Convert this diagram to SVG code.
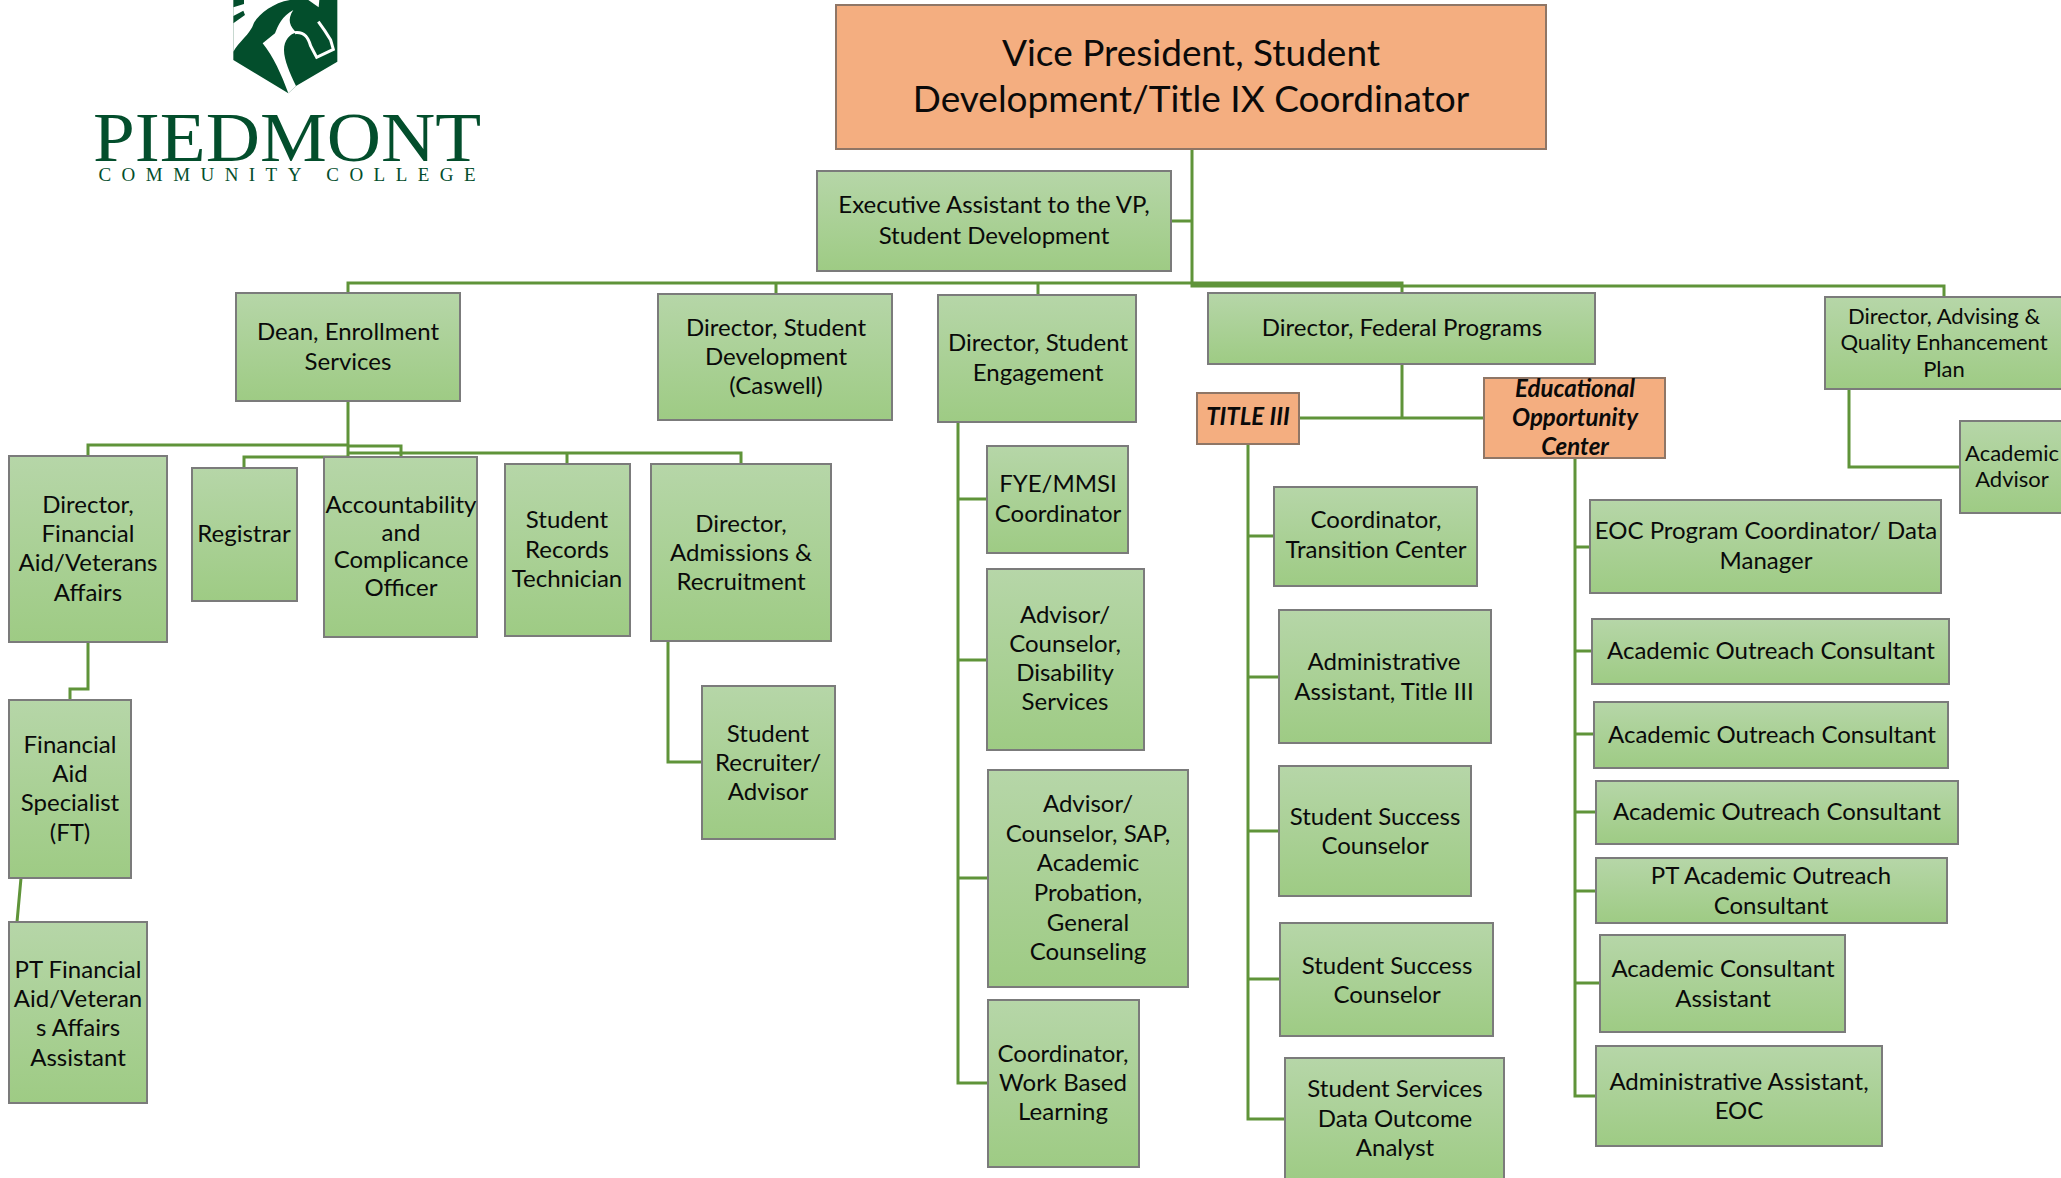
<svg xmlns="http://www.w3.org/2000/svg" width="2061" height="1178" viewBox="0 0 2061 1178">
<style>
text{font-family:"Lato","Open Sans","Liberation Sans",sans-serif;font-size:24px;fill:#0a0a0a;text-anchor:middle}
.g{fill:url(#gr);stroke:#7b7b7b;stroke-width:2}
.o{fill:#f4ae80;stroke:#8f7666;stroke-width:2}
.c{fill:none;stroke:#5f9439;stroke-width:3}
.s{font-size:22px}
.b{font-weight:700;font-style:italic}
.vp{font-size:37px}
.logo{font-family:"Liberation Serif",serif;fill:#034e2c}
</style>
<defs><linearGradient id="gr" x1="0" y1="0" x2="0" y2="1"><stop offset="0" stop-color="#b6d6a8"/><stop offset="1" stop-color="#9ecb84"/></linearGradient></defs>
<rect width="2061" height="1178" fill="#fff"/>
<g id="logo">
<g transform="translate(60 0) scale(.33333)">
<path fill="#034e2c" d="M520 0H832V185L708 258L685 280L520 180Z"/>
<path fill="#fff" d="M552 0H690C640 8 600 40 582 68C570 105 535 125 520 155V70L555 45L550 32L520 48V22L552 12Z"/>
<path fill="#fff" d="M700 30C665 50 655 75 645 100L608 130C640 170 665 225 685 280L708 258C690 220 672 180 672 150C672 120 690 100 710 98C690 80 680 60 700 30Z"/>
<path fill="none" stroke="#fff" stroke-width="9" d="M705 98C735 95 745 115 752 138L770 172L820 148L812 120C800 100 790 85 775 65"/>
<path fill="#fff" d="M745 0H778L776 22Z"/>
</g>
<text class="logo" x="287" y="161" font-size="70" style="font-size:70px;text-anchor:middle" textLength="388" lengthAdjust="spacingAndGlyphs">PIEDMONT</text>
<text class="logo" x="287" y="181" style="font-size:19px;text-anchor:middle" textLength="377">COMMUNITY COLLEGE</text>
</g>
<g id="connectors" class="c">
<path d="M1192 149V283M1171 221H1192M348 293V283H1402V293M1192 283V286H1402M1192 286H1944V297M776 283V294M1038 283V295"/>
<path d="M348 401V457M88 456V445H348M348 446H401V457M244 468V457H348M348 453H741V464M567 453V464"/>
<path d="M88 642V689H70V700M21 878L17 922M668 641V762H702"/>
<path d="M958 422V1083H988M958 499H987M958 660H987M958 878H988"/>
<path d="M1402 364V418M1299 418H1484"/>
<path d="M1248 444V1119H1285M1248 536H1274M1248 677H1279M1248 831H1279M1248 979H1280"/>
<path d="M1575 458V1096H1596M1575 547H1590M1575 651H1592M1575 734H1594M1575 812H1596M1575 891H1596M1575 983H1600"/>
<path d="M1849 389V467H1960"/>
</g>
<g id="vp"><rect class="o" x="836" y="5" width="710" height="144"/><text class="vp" x="1191" y="66">Vice President, Student</text><text class="vp" x="1191" y="112">Development/Title IX Coordinator</text></g>
<g id="exec"><rect class="g" x="817" y="171" width="354" height="100"/><text x="994" y="213">Executive Assistant to the VP,</text><text x="994" y="244">Student Development</text></g>
<g id="dean"><rect class="g" x="236" y="293" width="224" height="108"/><text x="348" y="340">Dean, Enrollment</text><text x="348" y="370">Services</text></g>
<g id="dirsd"><rect class="g" x="658" y="294" width="234" height="126"/><text x="776" y="336">Director, Student</text><text x="776" y="365">Development</text><text x="776" y="394">(Caswell)</text></g>
<g id="dirse"><rect class="g" x="938" y="295" width="198" height="127"/><text x="1038" y="351">Director, Student</text><text x="1038" y="381">Engagement</text></g>
<g id="dirfed"><rect class="g" x="1208" y="293" width="387" height="71"/><text x="1402" y="336">Director, Federal Programs</text></g>
<g id="diradv"><rect class="g" x="1825" y="297" width="245" height="92"/><text class="s" x="1944" y="324">Director, Advising &amp;</text><text class="s" x="1944" y="350">Quality Enhancement</text><text class="s" x="1944" y="377">Plan</text></g>
<g id="acadv"><rect class="g" x="1960" y="421" width="110" height="92"/><text class="s" x="2012" y="461">Academic</text><text class="s" x="2012" y="487">Advisor</text></g>
<g id="dirfin"><rect class="g" x="9" y="456" width="158" height="186"/><text x="88" y="513">Director,</text><text x="88" y="542">Financial</text><text x="88" y="571">Aid/Veterans</text><text x="88" y="601">Affairs</text></g>
<g id="registrar"><rect class="g" x="192" y="468" width="105" height="133"/><text x="244" y="542">Registrar</text></g>
<g id="account"><rect class="g" x="324" y="457" width="153" height="180"/><text x="401" y="513">Accountability</text><text x="401" y="541">and</text><text x="401" y="568">Complicance</text><text x="401" y="596">Officer</text></g>
<g id="records"><rect class="g" x="505" y="464" width="125" height="172"/><text x="567" y="528">Student</text><text x="567" y="558">Records</text><text x="567" y="587">Technician</text></g>
<g id="admissions"><rect class="g" x="651" y="464" width="180" height="177"/><text x="741" y="532">Director,</text><text x="741" y="561">Admissions &amp;</text><text x="741" y="590">Recruitment</text></g>
<g id="recruiter"><rect class="g" x="702" y="686" width="133" height="153"/><text x="768" y="742">Student</text><text x="768" y="771">Recruiter/</text><text x="768" y="800">Advisor</text></g>
<g id="finspec"><rect class="g" x="9" y="700" width="122" height="178"/><text x="70" y="753">Financial</text><text x="70" y="782">Aid</text><text x="70" y="811">Specialist</text><text x="70" y="841">(FT)</text></g>
<g id="ptfin"><rect class="g" x="9" y="922" width="138" height="181"/><text x="78" y="978">PT Financial</text><text x="78" y="1007">Aid/Veteran</text><text x="78" y="1036">s Affairs</text><text x="78" y="1066">Assistant</text></g>
<g id="fye"><rect class="g" x="987" y="446" width="141" height="107"/><text x="1058" y="492">FYE/MMSI</text><text x="1058" y="522">Coordinator</text></g>
<g id="disab"><rect class="g" x="987" y="569" width="157" height="181"/><text x="1065" y="623">Advisor/</text><text x="1065" y="652">Counselor,</text><text x="1065" y="681">Disability</text><text x="1065" y="710">Services</text></g>
<g id="sap"><rect class="g" x="988" y="770" width="200" height="217"/><text x="1088" y="812">Advisor/</text><text x="1088" y="842">Counselor, SAP,</text><text x="1088" y="871">Academic</text><text x="1088" y="901">Probation,</text><text x="1088" y="931">General</text><text x="1088" y="960">Counseling</text></g>
<g id="wbl"><rect class="g" x="988" y="1000" width="151" height="167"/><text x="1063" y="1062">Coordinator,</text><text x="1063" y="1091">Work Based</text><text x="1063" y="1120">Learning</text></g>
<g id="title3"><rect class="o" x="1197" y="393" width="102" height="51"/><text class="b" x="1248" y="425">TITLE III</text></g>
<g id="eoc"><rect class="o" x="1484" y="378" width="181" height="80"/><text class="b" x="1575" y="397">Educational</text><text class="b" x="1575" y="426">Opportunity</text><text class="b" x="1575" y="455">Center</text></g>
<g id="transition"><rect class="g" x="1274" y="487" width="203" height="99"/><text x="1376" y="528">Coordinator,</text><text x="1376" y="558">Transition Center</text></g>
<g id="admint3"><rect class="g" x="1279" y="610" width="212" height="133"/><text x="1384" y="670">Administrative</text><text x="1384" y="700">Assistant, Title III</text></g>
<g id="ssc1"><rect class="g" x="1279" y="766" width="192" height="130"/><text x="1375" y="825">Student Success</text><text x="1375" y="854">Counselor</text></g>
<g id="ssc2"><rect class="g" x="1280" y="923" width="213" height="113"/><text x="1387" y="974">Student Success</text><text x="1387" y="1003">Counselor</text></g>
<g id="ssdoa"><rect class="g" x="1285" y="1058" width="219" height="125"/><text x="1395" y="1097">Student Services</text><text x="1395" y="1127">Data Outcome</text><text x="1395" y="1156">Analyst</text></g>
<g id="eocpc"><rect class="g" x="1590" y="500" width="351" height="93"/><text x="1766" y="539">EOC Program Coordinator/ Data</text><text x="1766" y="569">Manager</text></g>
<g id="aoc1"><rect class="g" x="1592" y="619" width="357" height="65"/><text x="1771" y="659">Academic Outreach Consultant</text></g>
<g id="aoc2"><rect class="g" x="1594" y="702" width="354" height="66"/><text x="1772" y="743">Academic Outreach Consultant</text></g>
<g id="aoc3"><rect class="g" x="1596" y="781" width="362" height="63"/><text x="1777" y="820">Academic Outreach Consultant</text></g>
<g id="ptaoc"><rect class="g" x="1596" y="858" width="351" height="65"/><text x="1771" y="884">PT Academic Outreach</text><text x="1771" y="914">Consultant</text></g>
<g id="acasst"><rect class="g" x="1600" y="935" width="245" height="97"/><text x="1723" y="977">Academic Consultant</text><text x="1723" y="1007">Assistant</text></g>
<g id="admineoc"><rect class="g" x="1596" y="1046" width="286" height="100"/><text x="1739" y="1090">Administrative Assistant,</text><text x="1739" y="1119">EOC</text></g>
</svg>
